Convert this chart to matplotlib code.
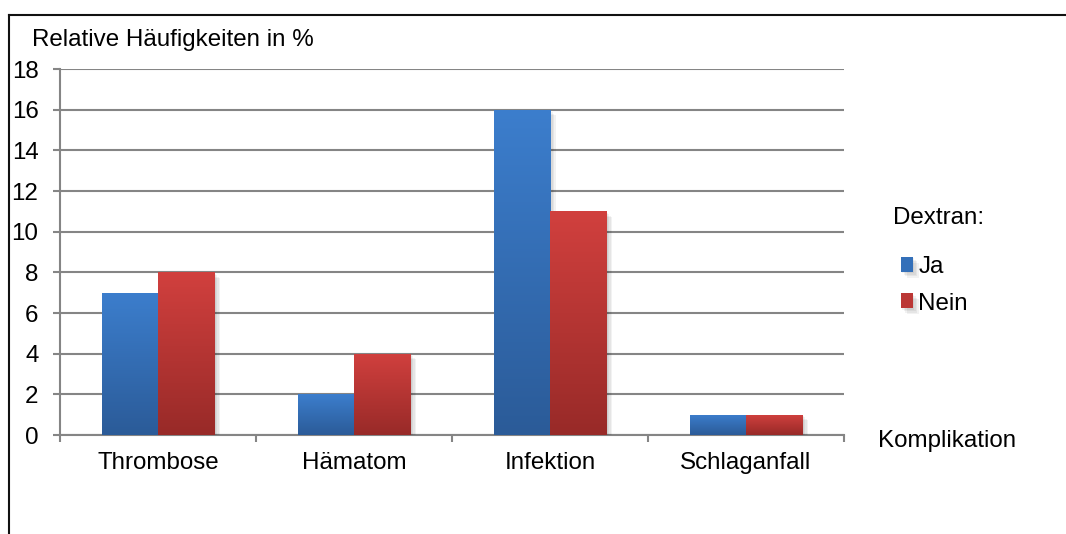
import numpy as np
import matplotlib
matplotlib.use("Agg")
import matplotlib.pyplot as plt
from matplotlib.lines import Line2D
import matplotlib.patheffects as pe
from matplotlib.colors import LinearSegmentedColormap

plt.rcParams["font.family"] = ["Liberation Sans", "DejaVu Sans"]

# Data
categories = ["Thrombose", "Hämatom", "Infektion", "Schlaganfall"]
ja_values = [7, 2, 16, 1]
nein_values = [8, 4, 11, 1]
series_names = ["Ja", "Nein"]
y_ticks = list(range(0, 19, 2))

W, H = 1066, 534
fig = plt.figure(figsize=(W / 100, H / 100), dpi=100)
ax = fig.add_axes([60 / W, 1 - 435 / H, (844 - 60) / W, (435 - 69) / H])

grid_col = "#858585"
fs = 17.4

# gradient colours: (top, bottom)
grads = [("#3c7ecd", "#2b5b98"), ("#d1403e", "#982a28")]
mids = ["#3470b9", "#bb3735"]

x = np.arange(len(categories))
bw = 0.288
shadow = [pe.SimplePatchShadow(offset=(k, -k), shadow_rgbFace="k", alpha=0.05)
          for k in (1, 2, 3, 4)] + [pe.Normal()]

containers = []
for i, vals in enumerate([ja_values, nein_values]):
    bars = ax.bar(x + (i - 0.5) * bw, vals, width=bw, color=mids[i],
                  zorder=2, label=series_names[i], linewidth=0)
    containers.append(bars)
    cmap = LinearSegmentedColormap.from_list(f"g{i}", [grads[i][1], grads[i][0]])
    for p in bars.patches:
        p.set_path_effects(shadow)
        bx, by = p.get_x(), p.get_y()
        w, h = p.get_width(), p.get_height()
        grad = np.linspace(1, 0, 256).reshape(-1, 1)
        im = ax.imshow(grad, cmap=cmap, extent=[bx, bx + w, by, by + h],
                       aspect="auto", zorder=3, interpolation="bilinear",
                       origin="upper", vmin=0, vmax=1)
        im.set_clip_path(p)

ax.set_xlim(-0.5, len(categories) - 0.5)
ax.set_ylim(0, 18)

# Axes styling
for s in ["top", "right"]:
    ax.spines[s].set_visible(False)
for s in ["left", "bottom"]:
    ax.spines[s].set_color(grid_col)
    ax.spines[s].set_linewidth(1.5)
    ax.spines[s].set_zorder(1.5)

ax.set_yticks(y_ticks)
ax.set_yticklabels([str(t) for t in y_ticks], fontsize=fs)
ax.yaxis.grid(True, color=grid_col, linewidth=1.5, zorder=1)
ax.set_axisbelow(True)
ax.tick_params(axis="y", direction="out", length=5, width=1.5,
               color=grid_col, pad=10.5)

ax.set_xticks(x)
ax.set_xticklabels(categories, fontsize=fs)
ax.tick_params(axis="x", which="major", length=0, pad=12.5)
ax.set_xticks(np.arange(-0.5, len(categories), 1.0), minor=True)
ax.tick_params(axis="x", which="minor", direction="out", length=5,
               width=1.5, color=grid_col)

# Titles for axes
fig.text(32 / W, 1 - 40 / H, "Relative Häufigkeiten in %", fontsize=fs,
         ha="left", va="center")
fig.text(878 / W, 1 - 441 / H, "Komplikation", fontsize=fs,
         ha="left", va="center")

# Legend
fig.text(893 / W, 1 - 218 / H, "Dextran:", fontsize=fs, ha="left", va="center")
fig.legend(handles=containers, labels=series_names, loc="upper left",
           bbox_to_anchor=(901 / W, 1 - 256 / H), frameon=False,
           fontsize=fs, handlelength=0.5, handleheight=0.58,
           handletextpad=0.22, labelspacing=0.6, borderpad=0,
           borderaxespad=0)

# Outer frame
fig.add_artist(Line2D([9 / W, 9 / W], [0, 1 - 15 / H], color="#111111",
                      linewidth=1.5, transform=fig.transFigure))
fig.add_artist(Line2D([9 / W, 1], [1 - 15 / H, 1 - 15 / H], color="#111111",
                      linewidth=1.5, transform=fig.transFigure))

fig.savefig("out.png", dpi=100)
